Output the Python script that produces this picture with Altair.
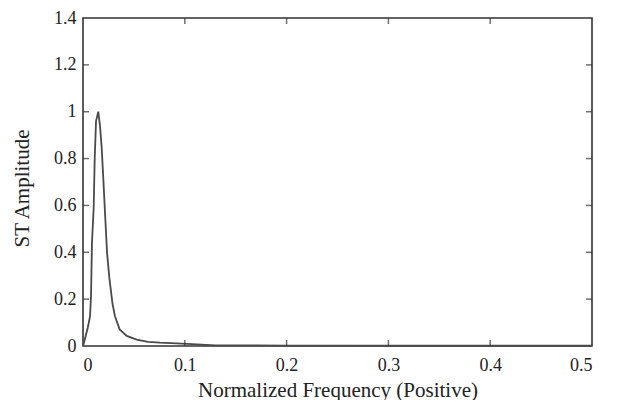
import altair as alt
import pandas as pd

# Curve values
freq = [0, 0.0013, 0.0046, 0.0069, 0.0079, 0.0088, 0.0105, 0.0115, 0.0128, 0.015,
        0.0167, 0.0183, 0.020, 0.0216, 0.0236, 0.0259, 0.029, 0.0314, 0.036, 0.043,
        0.0527, 0.064, 0.0756, 0.092, 0.112, 0.13, 0.2, 0.3, 0.4, 0.5]
amp = [0.0, 0.02, 0.077, 0.126, 0.217, 0.44, 0.59, 0.80, 0.96, 1.0,
       0.94, 0.85, 0.71, 0.57, 0.40, 0.29, 0.18, 0.127, 0.071, 0.043,
       0.027, 0.018, 0.014, 0.011, 0.007, 0.003, 0.002, 0.001, 0.001, 0.001]

x_ticks = [0, 0.1, 0.2, 0.3, 0.4, 0.5]
y_ticks = [0, 0.2, 0.4, 0.6, 0.8, 1.0, 1.2, 1.4]
x_inner = [0.1, 0.2, 0.3, 0.4]
y_inner = [0.2, 0.4, 0.6, 0.8, 1.0, 1.2]

W, H = 509, 328
FONT = "Liberation Serif"

df = pd.DataFrame({"f": freq, "a": amp})
xt = pd.DataFrame({"t": x_inner})
yt = pd.DataFrame({"t": y_inner})

xscale = alt.Scale(domain=[0, 0.5], nice=False, zero=False)
yscale = alt.Scale(domain=[0, 1.4], nice=False, zero=False)

line = alt.Chart(df).mark_line(color="#4a4a4a", strokeWidth=1.8).encode(
    x=alt.X("f:Q", scale=xscale,
            axis=alt.Axis(values=x_ticks, format="~g", title="Normalized Frequency (Positive)",
                          titleY=50, titleBaseline="alphabetic", titleFontSize=21,
                          labelPadding=10)),
    y=alt.Y("a:Q", scale=yscale,
            axis=alt.Axis(values=y_ticks, format="~g", title="ST Amplitude",
                          titleX=-55, titleY=170, titleBaseline="alphabetic",
                          titleFontSize=21, labelPadding=7)),
)

tick_bottom = alt.Chart(xt).mark_tick(orient="vertical", size=6, yOffset=-3,
                                      color="#333", thickness=1.5).encode(
    x=alt.X("t:Q", scale=xscale), y=alt.value(H))
tick_top = alt.Chart(xt).mark_tick(orient="vertical", size=6, yOffset=3,
                                   color="#333", thickness=1.5).encode(
    x=alt.X("t:Q", scale=xscale), y=alt.value(0))
tick_left = alt.Chart(yt).mark_tick(orient="horizontal", size=6, xOffset=3,
                                    color="#333", thickness=1.5).encode(
    y=alt.Y("t:Q", scale=yscale), x=alt.value(0))
tick_right = alt.Chart(yt).mark_tick(orient="horizontal", size=6, xOffset=-3,
                                     color="#333", thickness=1.5).encode(
    y=alt.Y("t:Q", scale=yscale), x=alt.value(W))

chart = alt.layer(line, tick_bottom, tick_top, tick_left, tick_right).properties(
    width=W, height=H,
    autosize=alt.AutoSizeParams(type="none"),
    padding={"left": 75, "top": 10, "right": 20, "bottom": 54},
).configure_view(
    stroke="#333", strokeWidth=1.6
).configure_axis(
    domain=False, ticks=False, grid=False,
    labelFont=FONT, titleFont=FONT, labelFontSize=18,
    labelColor="#222", titleColor="#222", titleFontWeight="normal",
)

chart.save("out.html", embed_options={"renderer": "svg", "actions": False})
